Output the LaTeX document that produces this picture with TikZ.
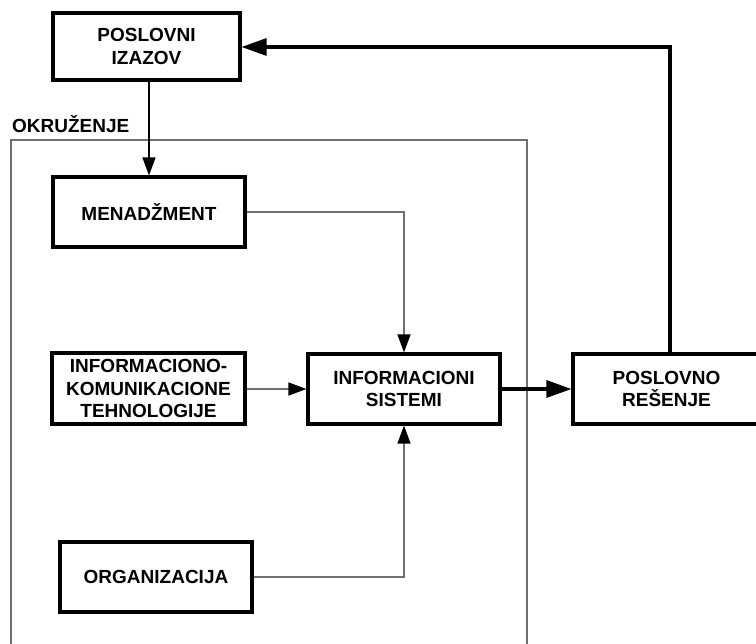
\documentclass[tikz,border=0pt]{standalone}
\usepackage{fontspec}
\setmainfont{Liberation Sans}
\usetikzlibrary{arrows.meta}
\definecolor{framegray}{HTML}{707070}
\tikzset{
  x=1pt, y=-1pt,
  labelfont/.style={font=\bfseries\fontsize{19}{22.5}\selectfont},
  box/.style={draw=black, line width=3.1pt, fill=white, inner sep=0pt,
    align=center, labelfont},
  thinlink/.style={draw=framegray, line width=1.3pt,
    -{Triangle[length=18pt,width=13pt,black]}},
  thicklink/.style={draw=black, line width=3.1pt,
    -{Triangle[length=25pt,width=17pt]}},
}
\begin{document}
\begin{tikzpicture}
\useasboundingbox (0,0) rectangle (756,644);

% environment frame, open at the bottom
\draw[framegray, line width=1.3pt] (11,660) -- (11,140) -- (527,140) -- (527,660);
\node[anchor=base west, inner sep=0pt, labelfont] (env) at (12,133) {OKRUŽENJE};

% boxes
\node[box, minimum width=187pt, minimum height=67pt] (izazov) at (146.5,46.5) {POSLOVNI\\IZAZOV};
\node[box, minimum width=192pt, minimum height=70pt] (men) at (149,212) {MENADŽMENT};
\node[box, minimum width=193pt, minimum height=71pt] (ikt) at (148.5,388.5) {INFORMACIONO-\\KOMUNIKACIONE\\TEHNOLOGIJE};
\node[box, minimum width=192pt, minimum height=70pt] (org) at (156,577) {ORGANIZACIJA};
\node[box, minimum width=192pt, minimum height=70pt] (is) at (404,389) {INFORMACIONI\\SISTEMI};
\node[box, minimum width=187pt, minimum height=70pt] (pr) at (666.5,389) {POSLOVNO\\REŠENJE};

% connectors
\draw[black, line width=1.3pt, -{Triangle[length=18pt,width=13pt]}]
  (men.north |- izazov.south) -- (men.north);
\draw[thinlink] (men.east) -| (is.north);
\draw[thinlink] (ikt.east |- is.west) -- (is.west);
\draw[thinlink] (org.east) -| (is.south);
\draw[thicklink] (is.east) -- (pr.west);
\coordinate (fb) at (670,47);
\draw[thicklink] (pr.north -| fb) -- (fb) -- (fb -| izazov.east);
\end{tikzpicture}
\end{document}
